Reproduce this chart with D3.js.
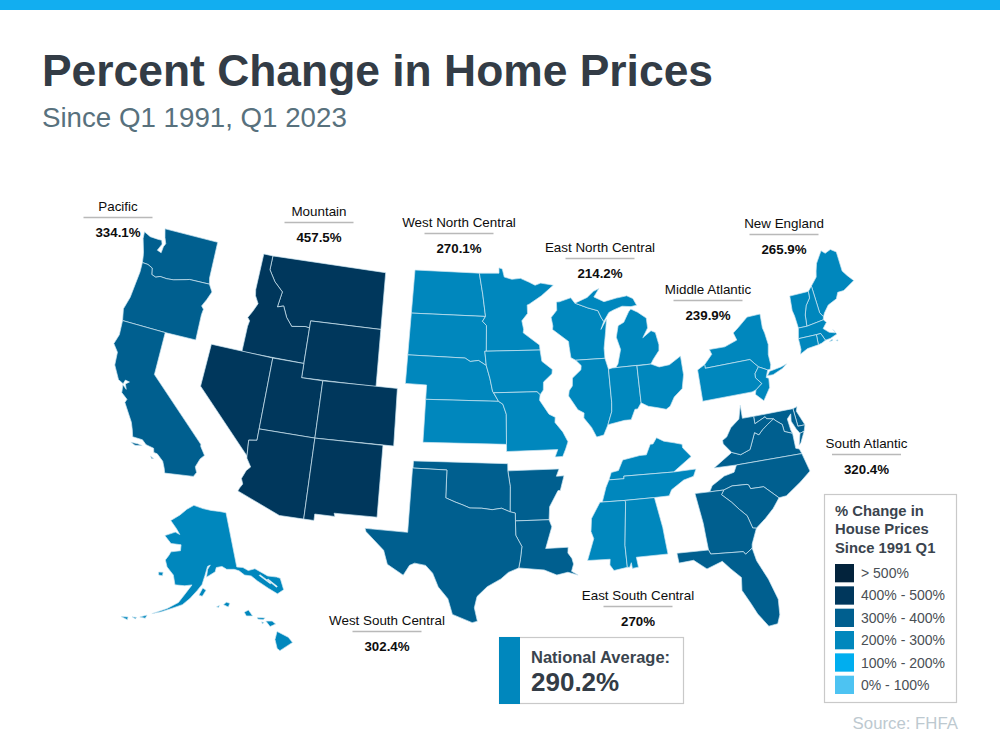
<!DOCTYPE html>
<html>
<head>
<meta charset="utf-8">
<script src="https://cdn.jsdelivr.net/npm/d3@7"></script>
<style>
  html, body { margin: 0; padding: 0; background: #fff; }
  svg { display: block; font-family: "Liberation Sans", Arial, sans-serif; }
</style>
</head>
<body>
<div id="chart"></div>
<script>
// division values
const divisionNames = ['Pacific', 'Mountain', 'West North Central', 'East North Central', 'Middle Atlantic',
  'New England', 'South Atlantic', 'East South Central', 'West South Central'];
const divisionValues = [334.1, 457.5, 270.1, 214.2, 239.9, 265.9, 320.4, 270, 302.4];
const divisionLabels = ['334.1%', '457.5%', '270.1%', '214.2%', '239.9%', '265.9%', '320.4%', '270%', '302.4%'];
const nationalValue = 290.2;
const legendBreaks = [100, 200, 300, 400, 500];
const legendColors = ['#4dc3f2', '#00aeef', '#0087bd', '#005f8f', '#00375c', '#03233c'];
const legendLabels = ['> 500%', '400% - 500%', '300% - 400%', '200% - 300%', '100% - 200%', '0% - 100%'];

// state outlines, lon/lat
const WA = [[[-117.03,49],[-117.04,46.42],[-116.92,46],[-118.98,46],[-119.3,45.93],[-120.5,45.7],[-121.2,45.65],[-121.9,45.68],[-122.3,45.55],[-122.75,45.65],[-122.9,46.1],[-123.4,46.25],[-124,46.27],[-124.1,46.7],[-124.2,47],[-124.65,47.9],[-124.72,48.38],[-124,48.17],[-123.2,48.15],[-122.75,48.15],[-122.6,47.9],[-122.9,47.4],[-122.45,47.3],[-122.4,47.75],[-122.25,48],[-122.5,48.4],[-122.75,49]]];
const OR = [[[-124.2,42],[-124.45,42.8],[-124.15,43.7],[-124.05,44.7],[-123.95,45.6],[-124,46.27],[-123.4,46.25],[-122.9,46.1],[-122.75,45.65],[-122.3,45.55],[-121.9,45.68],[-121.2,45.65],[-120.5,45.7],[-119.3,45.93],[-118.98,46],[-116.92,46],[-116.5,45.5],[-116.85,44.9],[-117.2,44.4],[-116.95,44.2],[-117.03,43.8],[-117.03,42],[-120,42]]];
const CA = [[[-124.2,42],[-120,42],[-120,39],[-114.63,35],[-114.6,34.85],[-114.14,34.3],[-114.45,34],[-114.72,33.4],[-114.52,33.03],[-114.72,32.72],[-117.12,32.53],[-117.25,32.85],[-117.5,33.3],[-118.1,33.72],[-118.4,33.75],[-118.5,34.03],[-119.2,34.15],[-119.6,34.42],[-120.47,34.45],[-120.65,34.9],[-120.9,35.4],[-121.9,36.6],[-121.8,36.85],[-122.4,37.2],[-122.5,37.75],[-122.1,37.5],[-122.3,37.85],[-122,38.05],[-122.4,38.1],[-122.5,37.82],[-123,38],[-123.7,38.9],[-123.8,39.8],[-124.35,40.3],[-124.1,41]],
  [[-120.5,34.05],[-119.9,34.07],[-119.5,34.02],[-120.1,33.92]],[[-118.6,33.45],[-118.3,33.35],[-118.45,33.3]]];
const NV = [[[-120,42],[-114.04,42],[-114.04,36.2],[-114.75,36.1],[-114.63,35],[-120,39]]];
const UT = [[[-114.04,42],[-111.05,42],[-111.05,41],[-109.05,41],[-109.05,37],[-114.04,37]]];
const AZ = [[[-114.04,37],[-109.05,37],[-109.05,31.33],[-111.07,31.33],[-114.81,32.5],[-114.72,32.72],[-114.52,33.03],[-114.72,33.4],[-114.45,34],[-114.14,34.3],[-114.6,34.85],[-114.63,35],[-114.75,36.1],[-114.04,36.2]]];
const NM = [[[-109.05,37],[-103,37],[-103.05,32],[-106.62,32],[-106.53,31.78],[-108.2,31.78],[-108.2,31.33],[-109.05,31.33]]];
const CO = [[[-109.05,41],[-102.05,41],[-102.05,37],[-109.05,37]]];
const WY = [[[-111.05,45],[-104.05,45],[-104.05,41],[-111.05,41]]];
const MT = [[[-116.05,49],[-104.05,49],[-104.05,45],[-111.05,45],[-111.05,44.5],[-111.5,44.55],[-112.8,44.4],[-113.45,44.95],[-113.95,45.7],[-114.55,45.55],[-114.35,46.65],[-115.3,47.25],[-116.05,48]]];
const ID = [[[-117.03,49],[-116.05,49],[-116.05,48],[-115.3,47.25],[-114.35,46.65],[-114.55,45.55],[-113.95,45.7],[-113.45,44.95],[-112.8,44.4],[-111.5,44.55],[-111.05,44.5],[-111.05,42],[-117.03,42],[-117.03,43.8],[-116.95,44.2],[-117.2,44.4],[-116.85,44.9],[-116.5,45.5],[-116.92,46],[-117.04,46.42]]];
const ND = [[[-104.05,49],[-97.23,49],[-96.85,47.5],[-96.55,45.94],[-104.05,45.94]]];
const SD = [[[-104.05,45.94],[-96.55,45.94],[-96.85,45.6],[-96.45,45.3],[-96.45,43.5],[-96.6,43.5],[-96.45,42.5],[-97.2,42.85],[-98,42.77],[-98.5,43],[-104.05,43]]];
const NE = [[[-104.05,43],[-98.5,43],[-98,42.77],[-97.2,42.85],[-96.45,42.5],[-96.1,41.6],[-95.85,40.7],[-95.3,40],[-102.05,40],[-102.05,41],[-104.05,41]]];
const KS = [[[-102.05,40],[-95.3,40],[-94.9,39.8],[-94.6,39.1],[-94.62,37],[-102.05,37]]];
const MN = [[[-97.23,49],[-95.15,49],[-95.15,49.38],[-94.8,49.3],[-94.6,48.72],[-93.8,48.55],[-92.9,48.6],[-92,48.3],[-91.4,48.07],[-90.8,48.2],[-89.5,48],[-90.8,47.3],[-92.1,46.75],[-92.3,46.7],[-92.3,46.1],[-92.9,45.6],[-92.75,45],[-92.8,44.75],[-91.25,43.85],[-91.22,43.5],[-96.45,43.5],[-96.45,45.3],[-96.85,45.6],[-96.55,45.94],[-96.85,47.5]]];
const IA = [[[-96.6,43.5],[-91.22,43.5],[-91.1,42.7],[-90.15,42.1],[-90.2,41.8],[-91.05,41.25],[-91.1,40.7],[-91.42,40.38],[-91.7,40.6],[-95.75,40.6],[-95.85,40.7],[-96.1,41.6],[-96.45,42.5]]];
const MO = [[[-95.75,40.6],[-91.7,40.6],[-91.42,40.38],[-91.5,40],[-90.7,39],[-90.15,38.75],[-90.2,38.4],[-89.55,37.7],[-89.15,37],[-89.4,36.5],[-89.7,36],[-90.37,36],[-90.1,36.5],[-94.62,36.5],[-94.62,37],[-94.6,39.1],[-94.9,39.8],[-95.3,40]]];
const WI = [[[-92.3,46.7],[-92,46.7],[-90.8,46.95],[-90.4,46.55],[-89.1,46.15],[-88.1,45.9],[-87.8,45.35],[-87.6,45.1],[-87.95,44.55],[-87.3,45.25],[-87.5,44.4],[-87.8,43.2],[-87.8,42.49],[-90.65,42.5],[-91.1,42.7],[-91.22,43.5],[-91.25,43.85],[-92.8,44.75],[-92.75,45],[-92.9,45.6],[-92.3,46.1]]];
const IL = [[[-90.65,42.5],[-87.8,42.49],[-87.55,41.7],[-87.53,39.35],[-87.6,38.7],[-88.05,37.8],[-88.5,37.1],[-89.15,37],[-89.55,37.7],[-90.2,38.4],[-90.15,38.75],[-90.7,39],[-91.5,40],[-91.42,40.38],[-91.1,40.7],[-91.05,41.25],[-90.2,41.8],[-90.15,42.1]]];
const IN = [[[-87.55,41.7],[-87.2,41.76],[-84.8,41.76],[-84.82,39.1],[-85.2,38.7],[-85.45,38.7],[-85.9,38],[-86.5,38],[-88.05,37.8],[-87.6,38.7],[-87.53,39.35]]];
const OH = [[[-84.8,41.73],[-83.45,41.73],[-82.7,41.45],[-81.7,41.5],[-80.52,41.98],[-80.52,40.64],[-80.85,39.7],[-81.7,39.2],[-82.2,38.6],[-82.6,38.42],[-83.3,38.6],[-84.2,38.8],[-84.82,39.1]]];
const MI = [[[-84.8,41.76],[-83.45,41.73],[-83.15,42.05],[-82.5,42.6],[-82.42,43],[-82.6,43.9],[-83,44.07],[-83.9,43.65],[-83.3,44.3],[-83.3,45],[-84.1,45.5],[-84.75,45.78],[-85,45.6],[-85.6,44.9],[-86.2,44.7],[-86.5,43.9],[-86.2,43],[-86.6,42],[-86.85,41.76]],
  [[-90.4,46.55],[-89.1,46.9],[-88.4,47.3],[-87.8,47.47],[-88.4,46.9],[-87.4,46.5],[-86.1,46.67],[-85,46.75],[-84.4,46.5],[-84.1,46],[-84.7,45.95],[-85.6,46.05],[-86.5,45.85],[-87,45.7],[-87.6,45.1],[-87.8,45.35],[-88.1,45.9],[-89.1,46.15]]];
const NY = [[[-79.76,42],[-75.35,42],[-74.7,41.36],[-73.9,41],[-73.65,41],[-73.5,41.3],[-73.5,42.05],[-73.27,42.75],[-73.35,43.6],[-73.45,44],[-73.35,45],[-74.7,45],[-75.8,44.4],[-76.4,44.1],[-76.2,43.55],[-77.5,43.25],[-79.05,43.27],[-78.9,42.9],[-79.76,42.27]],
  [[-74.05,40.6],[-73.75,40.87],[-72.6,40.98],[-72,41.1],[-72.5,40.85],[-73.5,40.58]]];
const PA = [[[-80.52,41.98],[-79.76,42.27],[-79.76,42],[-75.35,42],[-74.7,41.36],[-75.15,40.95],[-75.2,40.65],[-74.73,40.15],[-75.4,39.8],[-75.8,39.72],[-80.52,39.72]]];
const NJ = [[[-75.15,40.95],[-74.7,41.36],[-73.9,41],[-74.2,40.5],[-73.98,40.4],[-74.1,39.75],[-74.9,38.93],[-75.55,39.5],[-75.4,39.8],[-74.73,40.15],[-75.2,40.65]]];
const ME = [[[-71.08,45.3],[-70.4,45.8],[-70.25,46.2],[-70,46.7],[-69.23,47.45],[-68.9,47.2],[-68.3,47.35],[-67.8,47.07],[-67.8,45.7],[-67.45,45.3],[-67,44.85],[-68.2,44.4],[-68.8,44.4],[-69.1,44],[-70,43.75],[-70.55,43.3],[-70.73,43.07],[-70.98,43.4]]];
const NH = [[[-71.5,45],[-71.08,45.3],[-70.98,43.4],[-70.73,43.07],[-70.82,42.87],[-72.46,42.73],[-72.35,43.5],[-72.05,44.1],[-71.55,44.55]]];
const VT = [[[-73.35,45],[-71.5,45],[-71.55,44.55],[-72.05,44.1],[-72.35,43.5],[-72.46,42.73],[-73.27,42.75],[-73.35,43.6],[-73.45,44]]];
const MA = [[[-73.5,42.05],[-73.27,42.75],[-72.46,42.73],[-70.82,42.87],[-70.6,42.65],[-71.05,42.3],[-70.6,41.95],[-70.05,41.8],[-70.2,42.07],[-69.95,41.7],[-70.65,41.53],[-71.12,41.5],[-71.38,42.02],[-71.8,42.02]],
  [[-70.8,41.35],[-70.5,41.45],[-70.5,41.35]],[[-70.2,41.3],[-70,41.3],[-70.05,41.22]]];
const RI = [[[-71.8,42.02],[-71.38,42.02],[-71.12,41.5],[-71.5,41.37],[-71.85,41.32]]];
const CT = [[[-73.5,42.05],[-71.8,42.02],[-71.85,41.32],[-72.9,41.25],[-73.65,41],[-73.5,41.3]]];
const DE = [[[-75.8,39.72],[-75.4,39.8],[-75.55,39.5],[-75.05,38.45],[-75.7,38.46]]];
const MD = [[[-79.48,39.72],[-75.8,39.72],[-75.7,38.46],[-75.05,38.45],[-75.25,38.03],[-75.65,37.95],[-75.9,38.3],[-76.2,38.9],[-76.1,39.4],[-76.5,39.1],[-76.4,38.3],[-76.3,38.05],[-77,38.3],[-77.05,38.8],[-77.5,39.1],[-77.75,39.3],[-78.35,39.4],[-78.45,39.55],[-79.48,39.2]]];
const VA = [[[-83.68,36.6],[-81.7,36.59],[-75.87,36.55],[-76,36.9],[-76.3,37],[-76.3,38.05],[-77,38.3],[-77.05,38.8],[-77.5,39.1],[-77.75,39.3],[-78.35,39],[-78.9,38.7],[-79.3,38.4],[-79.65,38.6],[-80.3,37.5],[-81.2,37.25],[-81.95,37.5]],
  [[-75.25,38.03],[-75.65,37.95],[-75.95,37.15],[-75.75,37.3]]];
const WV = [[[-80.52,40.64],[-80.52,39.72],[-79.48,39.72],[-79.48,39.2],[-78.45,39.55],[-78.35,39.4],[-77.75,39.3],[-78.35,39],[-78.9,38.7],[-79.3,38.4],[-79.65,38.6],[-80.3,37.5],[-81.2,37.25],[-81.95,37.5],[-82.6,38.17],[-82.6,38.42],[-82.2,38.6],[-81.7,39.2],[-80.85,39.7]]];
const NC = [[[-81.7,36.59],[-75.87,36.55],[-75.5,35.25],[-76.5,34.65],[-77.9,33.9],[-78.55,33.86],[-79.67,34.8],[-80.8,34.82],[-80.93,35.1],[-81.05,35.15],[-82.35,35.2],[-83.1,35],[-84.32,35],[-84.05,35.4],[-82.9,35.95],[-82,36.12]]];
const SC = [[[-83.1,35],[-82.35,35.2],[-81.05,35.15],[-80.93,35.1],[-80.8,34.82],[-79.67,34.8],[-78.55,33.86],[-79.2,33.2],[-80,32.6],[-80.85,32.05],[-81.15,32.1],[-81.45,33],[-82,33.5],[-82.6,34.1],[-83.35,34.7]]];
const GA = [[[-85.6,35],[-84.32,35],[-83.1,35],[-83.35,34.7],[-82.6,34.1],[-82,33.5],[-81.45,33],[-81.15,32.1],[-80.85,32.05],[-81.4,31],[-81.45,30.72],[-82.05,30.37],[-82.2,30.57],[-84.86,30.7],[-85,31],[-85.1,32],[-85.18,32.87]]];
const FL = [[[-87.6,31],[-85,31],[-84.86,30.7],[-82.2,30.57],[-82.05,30.37],[-81.45,30.72],[-81.25,29.8],[-80.55,28.4],[-80.05,26.9],[-80.13,25.8],[-80.4,25.2],[-81.1,25.13],[-81.8,26.1],[-82.2,26.9],[-82.75,27.9],[-82.65,28.8],[-83.4,29.5],[-84,30.1],[-85.3,29.7],[-86.3,30.4],[-87.5,30.3]]];
const KY = [[[-89.4,36.5],[-88.07,36.5],[-88.07,36.68],[-83.68,36.6],[-81.95,37.5],[-82.6,38.17],[-82.6,38.42],[-83.3,38.6],[-84.2,38.8],[-84.82,39.1],[-85.2,38.7],[-85.45,38.7],[-85.9,38],[-86.5,38],[-88.05,37.8],[-88.5,37.1],[-89.15,37]]];
const TN = [[[-90.1,35],[-88.2,35],[-85.6,35],[-84.32,35],[-84.05,35.4],[-82.9,35.95],[-82,36.12],[-81.7,36.59],[-83.68,36.6],[-88.07,36.68],[-88.07,36.5],[-89.4,36.5],[-89.7,36]]];
const MS = [[[-90.3,35],[-88.2,35],[-88.1,34.9],[-88.45,31.9],[-88.4,30.35],[-89.5,30.2],[-89.8,30.6],[-89.75,31],[-91.6,31],[-91,32.5],[-91.2,33],[-91.1,33.9]]];
const AL = [[[-88.2,35],[-85.6,35],[-85.18,32.87],[-85.1,32],[-85,31],[-87.6,31],[-87.5,30.3],[-88,30.25],[-88.05,30.65],[-88.2,30.35],[-88.4,30.35],[-88.45,31.9],[-88.1,34.9]]];
const AR = [[[-94.62,36.5],[-90.1,36.5],[-90.37,36],[-89.7,36],[-90.1,35],[-90.3,35],[-91.1,33.9],[-91.2,33],[-94.04,33],[-94.04,33.55],[-94.48,33.64],[-94.43,35.4]]];
const LA = [[[-94.04,33],[-91.2,33],[-91,32.5],[-91.6,31],[-89.75,31],[-89.8,30.6],[-89.5,30.2],[-89.4,29.8],[-89.6,29.3],[-89.1,29],[-89.9,29.25],[-90.8,29.1],[-91.8,29.5],[-92.3,29.55],[-93.85,29.7],[-93.7,30.3],[-93.55,31.2],[-94.04,32]]];
const OK = [[[-103,37],[-94.62,37],[-94.62,36.5],[-94.43,35.4],[-94.48,33.64],[-95.2,33.9],[-96,33.8],[-96.9,33.9],[-97.9,33.9],[-98.5,34.1],[-99.2,34.3],[-100,34.56],[-100,36.5],[-103,36.5]]];
const TX = [[[-103.04,36.5],[-100,36.5],[-100,34.56],[-99.2,34.3],[-98.5,34.1],[-97.9,33.9],[-96.9,33.9],[-96,33.8],[-95.2,33.9],[-94.48,33.64],[-94.04,33.55],[-94.04,32],[-93.55,31.2],[-93.7,30.3],[-93.85,29.7],[-94.7,29.4],[-95.3,28.95],[-96.4,28.4],[-97.2,27.7],[-97.4,26.9],[-97.15,25.95],[-97.55,25.85],[-99.1,26.4],[-99.5,27.5],[-100.3,28.3],[-100.8,29.25],[-101.4,29.77],[-102.3,29.88],[-102.7,29.7],[-103.15,28.98],[-104.5,29.65],[-104.9,30.6],[-106.5,31.78],[-106.62,32],[-103.05,32]]];
const AK = [[[-141,69.65],[-141,60.3],[-139,60],[-137.5,59.3],[-135.2,59.3],[-132,57.5],[-129.5,56.8],[-128.6,56.4],[-128.9,54.4],[-131,54.1],[-133,55.5],[-135.5,57.2],[-137,58.3],[-139,58.7],[-140.5,59.6],[-142,60],[-144.5,60.2],[-146,60.8],[-148,60.7],[-148.5,60],[-151.5,59.2],[-151,60.5],[-150,61.2],[-151,61],[-152,59.5],[-153,58],[-154.5,57],[-156.7,55.6],[-158.8,54.5],[-161.4,53.8],[-164.5,52.9],[-167,52.3],[-163,53.6],[-160,54.8],[-158,56.5],[-156.2,57.9],[-158.5,57.7],[-161.6,57.7],[-162.5,59.3],[-165,60.5],[-166,61.6],[-165,62.5],[-164.5,63.1],[-161,63.5],[-161,64.5],[-165,64.5],[-168,65.6],[-164,66.5],[-162,66.2],[-163.7,67.1],[-166.8,68.3],[-163,69.5],[-160,70.6],[-156.6,71.35],[-152,70.8],[-148,70.4],[-144,70.05]],
  [[-134.5,58],[-132,56.1],[-131.7,56.2],[-134.2,58.1]],[[-132.5,56.9],[-130.6,55.2],[-130.3,55.3],[-132.2,57]],
  [[-154,56.2],[-152.8,57.4],[-151.8,57],[-153,56]],[[-167.5,59.4],[-166,59.5],[-166,58.9],[-167.3,58.9]],
  [[-170,51.3],[-168.2,51.9],[-168.5,51.3]],[[-174.8,50.5],[-173,50.8],[-173,50.3]],[[-172,51],[-170.8,51.1],[-171,50.8]]];
const HI = [[[-155.9,20.25],[-155.1,19.85],[-154.8,19.5],[-155.7,18.95],[-155.9,19.1],[-156.05,19.7]],[[-156.7,20.95],[-156.25,20.95],[-156,20.75],[-156.4,20.58]],[[-157.3,21.2],[-156.75,21.17],[-156.9,21.05],[-157.3,21.1]],
  [[-158.25,21.55],[-157.95,21.7],[-157.65,21.3],[-158.1,21.3]],[[-159.75,22.05],[-159.55,22.22],[-159.3,22.15],[-159.4,21.9]],[[-160.25,21.9],[-160.05,22],[-160.1,21.85]],[[-157,20.9],[-156.85,20.85],[-156.95,20.75]]];

const divisionStates = [[WA, OR, CA], [MT, ID, WY, NV, UT, CO, AZ, NM], [ND, SD, NE, KS, MN, IA, MO],
  [WI, MI, IL, IN, OH], [NY, PA, NJ], [ME, NH, VT, MA, RI, CT], [DE, MD, VA, WV, NC, SC, GA, FL],
  [KY, TN, MS, AL], [AR, LA, OK, TX]];

// where each division sits: a lon/lat point and the pixel it lands on, then the scale
const placements = [
  { from: [-117.03, 49], to: [217.7, 242.3], scale: 820 },
  { from: [-104.05, 49], to: [385.7, 272.7], scale: 820 },
  { from: [-104.05, 49], to: [415, 270], scale: 815 },
  { from: [-89.15, 37], to: [596.7, 437], scale: 805 },
  { from: [-73.35, 45], to: [760, 314], scale: 800 },
  { from: [-69.23, 47.45], to: [821, 250.7], scale: 840 },
  { from: [-81, 25.2], to: [770, 625], scale: 820 },
  { from: [-85, 31], to: [668, 554], scale: 820 },
  { from: [-97.2, 25.85], to: [476.7, 622.7], scale: 815 }
];
const labelSpots = [
  { x: 118, y: 211 }, { x: 319, y: 216 }, { x: 459, y: 227 }, { x: 600, y: 252 }, { x: 708, y: 294 },
  { x: 784, y: 228 }, { x: 866.5, y: 448 }, { x: 638, y: 600 }, { x: 387, y: 625 }
];

const colorScale = d3.scaleThreshold().domain(legendBreaks).range(legendColors);

const svg = d3.select('#chart').append('svg')
  .attr('width', 1000)
  .attr('height', 750)
  .attr('viewBox', '0 0 1000 750');

svg.append('rect').attr('width', 1000).attr('height', 10).attr('fill', '#12aef0');

svg.append('text').attr('x', 42).attr('y', 85.5)
  .attr('font-size', 44.4).attr('font-weight', 700).attr('fill', '#333c46')
  .text('Percent Change in Home Prices');
svg.append('text').attr('x', 42).attr('y', 127)
  .attr('font-size', 27.7).attr('fill', '#58717d')
  .text('Since Q1 1991, Q1 2023');

function placedAlbers (rotate, parallels, placement) {
  let proj = d3.geoAlbers().rotate(rotate).center([0, 0]).parallels(parallels)
    .scale(placement.scale).translate([0, 0]);
  let p = proj(placement.from);
  return proj.translate([placement.to[0] - p[0], placement.to[1] - p[1]]);
}

function drawStates (group, states, proj, fill) {
  let ring = d3.line()
    .x(d => proj(d)[0])
    .y(d => proj(d)[1])
    .curve(d3.curveLinearClosed);
  group.selectAll('path').data(states).enter().append('path')
    .attr('d', d => d.map(ring).join(''))
    .attr('fill', fill)
    .attr('fill-rule', 'evenodd')
    .attr('stroke', '#cfe6f2')
    .attr('stroke-width', 0.7)
    .attr('stroke-linejoin', 'round');
}

let mapGroup = svg.append('g').attr('class', 'map');
divisionStates.forEach((states, i) => {
  let proj = placedAlbers([96, 0], [29.5, 45.5], placements[i]);
  drawStates(mapGroup.append('g'), states, proj, colorScale(divisionValues[i]));
});

// Alaska and Hawaii have their own projections, both filled with the national band
let akProj = placedAlbers([154, 0], [55, 65], { from: [-141, 69.65], to: [226, 512.7], scale: 340 });
let hiProj = placedAlbers([157, 0], [8, 18], { from: [-155.5, 19.6], to: [282.7, 641], scale: 850 });
drawStates(mapGroup.append('g'), [AK], akProj, colorScale(nationalValue));
drawStates(mapGroup.append('g'), [HI], hiProj, colorScale(nationalValue));

// division labels
let labels = svg.append('g').selectAll('g').data(divisionNames).enter().append('g')
  .attr('transform', (d, i) => `translate(${labelSpots[i].x},${labelSpots[i].y})`)
  .attr('text-anchor', 'middle');
labels.append('text').attr('font-size', 13.4).attr('fill', '#0d0d0d').text(d => d);
labels.append('line').attr('x1', -34.5).attr('x2', 34.5).attr('y1', 6.5).attr('y2', 6.5)
  .attr('stroke', '#b9b9b9').attr('stroke-width', 1.3);
labels.append('text').attr('y', 26).attr('font-size', 13.3).attr('font-weight', 700).attr('fill', '#0d0d0d')
  .text((d, i) => divisionLabels[i]);

// national average box
let nat = svg.append('g');
nat.append('rect').attr('x', 499.5).attr('y', 637.5).attr('width', 184).attr('height', 66)
  .attr('fill', '#fff').attr('stroke', '#c9c9c9').attr('stroke-width', 1.2);
nat.append('rect').attr('x', 499).attr('y', 637).attr('width', 21).attr('height', 67)
  .attr('fill', colorScale(nationalValue));
nat.append('text').attr('x', 531).attr('y', 663).attr('font-size', 16.5).attr('font-weight', 700)
  .attr('fill', '#3a444e').text('National Average:');
nat.append('text').attr('x', 531).attr('y', 691).attr('font-size', 26).attr('font-weight', 700)
  .attr('fill', '#333c46').text(nationalValue + '%');

// legend
let legend = svg.append('g');
legend.append('rect').attr('x', 824.5).attr('y', 494.5).attr('width', 132).attr('height', 208)
  .attr('fill', '#fff').attr('stroke', '#c9c9c9').attr('stroke-width', 1.2);
legend.selectAll('text.title').data(['% Change in', 'House Prices', 'Since 1991 Q1']).enter().append('text')
  .attr('class', 'title')
  .attr('x', 835).attr('y', (d, i) => 516 + i * 18.3)
  .attr('font-size', 14.8).attr('font-weight', 700).attr('fill', '#3a444e')
  .text(d => d);
let legendY = d3.scaleBand().domain(legendLabels).range([564, 694]).paddingInner(0.18);
let legendRows = legend.selectAll('g').data(legendLabels).enter().append('g');
legendRows.append('rect')
  .attr('x', 835).attr('y', d => legendY(d))
  .attr('width', 19).attr('height', legendY.bandwidth())
  .attr('fill', (d, i) => legendColors[legendColors.length - 1 - i]);
legendRows.append('text')
  .attr('x', 861).attr('y', d => legendY(d) + legendY.bandwidth() / 2 + 5)
  .attr('font-size', 14).attr('fill', '#4a4f55')
  .text(d => d);

svg.append('text').attr('x', 958).attr('y', 729).attr('text-anchor', 'end')
  .attr('font-size', 16.8).attr('fill', '#bdc9d0').text('Source: FHFA');
</script>
</body>
</html>
